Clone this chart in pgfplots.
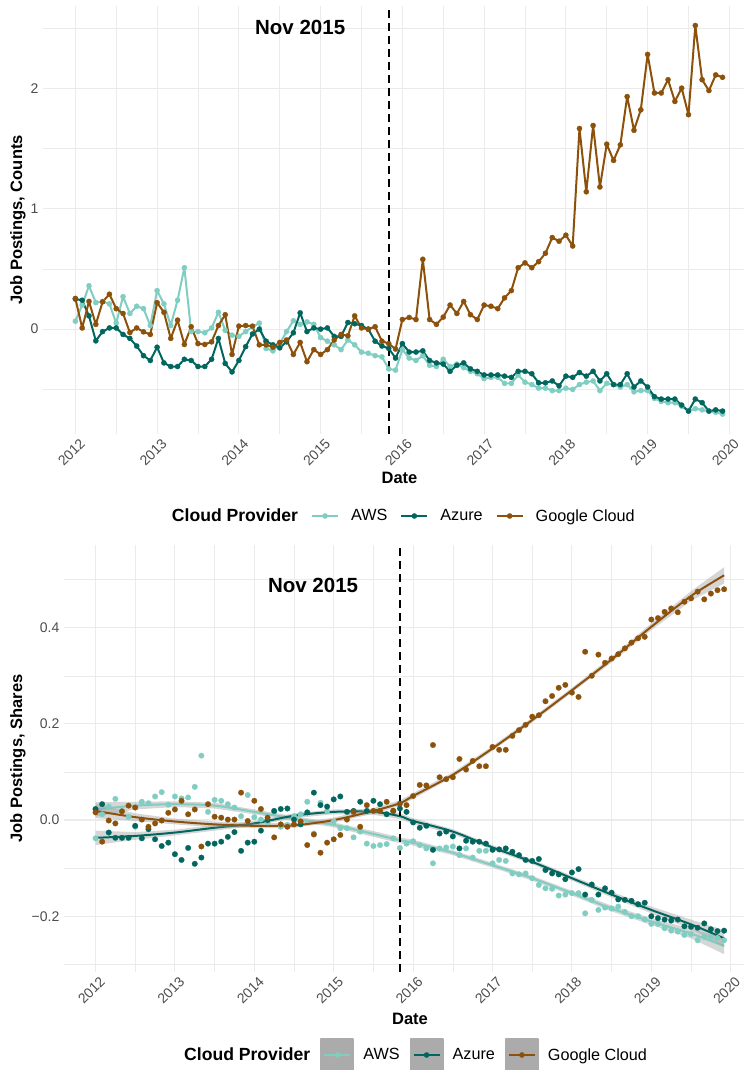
\documentclass[border=0pt]{standalone}
\usepackage{fontspec}
\setmainfont{Liberation Sans}
\usepackage{pgfplots}
\pgfplotsset{compat=1.18}
\usepackage{pgfplotstable}
\definecolor{aws}{HTML}{80CDC1}
\definecolor{azure}{HTML}{01665E}
\definecolor{gcp}{HTML}{8C510A}
\definecolor{gridc}{HTML}{EBEBEB}
\definecolor{tickc}{HTML}{4D4D4D}
\definecolor{legbg}{HTML}{ABABAB}

\pgfplotstableread{
i aws azure google
0 0.066 0.25 0.255
1 0.20 0.24 0.01
2 0.36 0.11 0.23
3 0.22 -0.097 0.04
4 0.23 -0.02 0.227
5 0.21 0.01 0.29
6 0.05 0.01 0.17
7 0.27 -0.044 0.13
8 0.13 -0.077 -0.028
9 0.19 -0.14 0.01
10 0.17 -0.22 -0.022
11 0.03 -0.26 -0.044
12 0.32 -0.15 0.22
13 0.21 -0.28 0.14
14 0.03 -0.31 -0.077
15 0.24 -0.31 0.075
16 0.51 -0.25 -0.127
17 -0.02 -0.26 0.02
18 -0.02 -0.31 -0.12
19 -0.03 -0.31 -0.127
20 0.01 -0.25 -0.105
21 0.14 -0.077 0.03
22 -0.01 -0.285 0.12
23 -0.05 -0.355 -0.21
24 -0.06 -0.26 0.025
25 -0.02 -0.145 0.03
26 0.02 -0.04 0.025
27 0.05 0.0 -0.13
28 -0.16 -0.10 -0.13
29 -0.18 -0.13 -0.15
30 -0.12 -0.155 -0.11
31 -0.02 -0.105 -0.09
32 0.07 -0.03 -0.21
33 0.04 0.135 -0.11
34 0.06 -0.02 -0.27
35 0.04 0.01 -0.17
36 -0.07 0.0 -0.21
37 -0.10 0.01 -0.17
38 -0.13 -0.06 -0.09
39 -0.17 -0.06 -0.044
40 -0.09 0.055 -0.055
41 -0.13 0.045 0.11
42 -0.19 0.03 0.01
43 -0.20 0.0 0.0
44 -0.22 -0.10 0.02
45 -0.23 -0.14 -0.10
46 -0.33 -0.16 -0.12
47 -0.34 -0.24 -0.165
48 -0.17 -0.12 0.08
49 -0.24 -0.19 0.097
50 -0.26 -0.19 0.08
51 -0.22 -0.18 0.58
52 -0.30 -0.26 0.08
53 -0.31 -0.28 0.04
54 -0.25 -0.29 0.10
55 -0.31 -0.35 0.20
56 -0.29 -0.30 0.13
57 -0.32 -0.28 0.23
58 -0.35 -0.33 0.12
59 -0.37 -0.35 0.08
60 -0.41 -0.38 0.20
61 -0.40 -0.38 0.19
62 -0.40 -0.38 0.17
63 -0.45 -0.39 0.26
64 -0.45 -0.40 0.32
65 -0.38 -0.35 0.51
66 -0.44 -0.35 0.55
67 -0.46 -0.37 0.51
68 -0.49 -0.445 0.56
69 -0.49 -0.445 0.63
70 -0.51 -0.43 0.76
71 -0.51 -0.47 0.73
72 -0.49 -0.39 0.78
73 -0.50 -0.40 0.69
74 -0.46 -0.36 1.665
75 -0.44 -0.39 1.14
76 -0.43 -0.35 1.69
77 -0.51 -0.43 1.18
78 -0.45 -0.37 1.535
79 -0.46 -0.46 1.40
80 -0.48 -0.46 1.53
81 -0.46 -0.37 1.93
82 -0.52 -0.48 1.65
83 -0.51 -0.43 1.82
84 -0.51 -0.48 2.28
85 -0.575 -0.56 1.96
86 -0.60 -0.58 1.96
87 -0.61 -0.58 2.07
88 -0.61 -0.58 1.89
89 -0.64 -0.63 2.00
90 -0.68 -0.68 1.78
91 -0.66 -0.58 2.52
92 -0.67 -0.61 2.07
93 -0.68 -0.68 1.98
94 -0.69 -0.67 2.11
95 -0.705 -0.68 2.09
}\counts

\pgfplotstableread{
i aws azure google
0 -0.038 0.023 0.016
1 0.012 0.033 -0.045
2 0.028 -0.026 -0.001
3 0.044 -0.037 -0.007
4 0.019 -0.037 0.018
5 0.007 -0.037 0.030
6 -0.014 -0.012 0.026
7 0.038 -0.038 0.001
8 0.035 -0.019 -0.014
9 0.049 -0.040 -0.007
10 0.058 -0.054 -0.001
11 0.032 -0.047 0.015
12 0.049 -0.071 0.022
13 0.045 -0.083 0.040
14 0.047 -0.058 0.012
15 0.069 -0.091 0.022
16 0.134 -0.078 -0.055
17 0.017 -0.049 0.033
18 0.042 -0.049 0.007
19 0.040 -0.045 0.005
20 0.033 -0.035 0.001
21 0.026 -0.025 0.001
22 0.008 -0.064 0.057
23 0.052 -0.047 -0.002
24 0.006 -0.045 0.040
25 0.001 -0.022 0.023
26 -0.005 0.000 0.005
27 0.017 0.019 -0.036
28 -0.014 0.023 -0.009
29 -0.010 0.024 -0.014
30 0.008 0.001 -0.009
31 0.012 -0.009 -0.003
32 0.038 0.016 -0.052
33 -0.028 0.057 -0.030
34 0.036 0.031 -0.068
35 0.019 0.028 -0.047
36 -0.003 0.043 -0.040
37 -0.017 0.049 -0.031
38 -0.017 0.017 0.001
39 -0.036 0.019 0.017
40 -0.024 0.038 -0.014
41 -0.049 0.019 0.031
42 -0.054 0.040 0.019
43 -0.052 0.033 0.019
44 -0.050 0.012 0.038
45 -0.038 0.019 0.019
46 -0.058 0.024 0.034
47 -0.049 0.017 0.031
48 -0.044 -0.005 0.050
49 -0.052 -0.016 0.073
50 -0.059 -0.012 0.072
51 -0.090 -0.062 0.156
52 -0.059 -0.028 0.089
53 -0.057 -0.024 0.085
54 -0.055 -0.034 0.089
55 -0.073 -0.059 0.127
56 -0.059 -0.043 0.105
57 -0.078 -0.045 0.123
58 -0.064 -0.045 0.112
59 -0.064 -0.049 0.112
60 -0.090 -0.062 0.152
61 -0.083 -0.061 0.146
62 -0.085 -0.059 0.146
63 -0.111 -0.066 0.175
64 -0.113 -0.073 0.187
65 -0.111 -0.083 0.198
66 -0.121 -0.085 0.215
67 -0.135 -0.081 0.218
68 -0.142 -0.104 0.247
69 -0.143 -0.111 0.258
70 -0.157 -0.113 0.275
71 -0.155 -0.123 0.281
72 -0.152 -0.109 0.265
73 -0.152 -0.102 0.256
74 -0.194 -0.155 0.350
75 -0.166 -0.134 0.300
76 -0.187 -0.155 0.344
77 -0.182 -0.142 0.327
78 -0.184 -0.151 0.336
79 -0.180 -0.165 0.345
80 -0.191 -0.166 0.357
81 -0.200 -0.168 0.369
82 -0.200 -0.175 0.378
83 -0.207 -0.172 0.381
84 -0.216 -0.200 0.417
85 -0.216 -0.204 0.420
86 -0.225 -0.207 0.433
87 -0.230 -0.209 0.440
88 -0.232 -0.207 0.432
89 -0.239 -0.221 0.454
90 -0.237 -0.222 0.461
91 -0.250 -0.224 0.475
92 -0.243 -0.215 0.459
93 -0.243 -0.227 0.471
94 -0.245 -0.231 0.478
95 -0.250 -0.230 0.480
}\shares

% loess fits
\pgfplotstableread{
x gm zm am
2012.0 0.019 -0.037 0.022
2012.5 0.006 -0.033 0.030
2013.0 -0.003 -0.026 0.033
2013.5 -0.009 -0.016 0.030
2014.0 -0.012 -0.007 0.017
2014.5 -0.011 0.009 0.003
2015.0 0.000 0.017 -0.010
2015.5 0.019 0.017 -0.029
2015.833 0.035 0.008 -0.042
2016.0 0.050 -0.002 -0.047
2016.5 0.094 -0.024 -0.068
2017.0 0.149 -0.057 -0.094
2017.5 0.208 -0.087 -0.121
2018.0 0.270 -0.121 -0.152
2018.5 0.334 -0.155 -0.184
2019.0 0.402 -0.187 -0.211
2019.5 0.466 -0.217 -0.236
2019.917 0.509 -0.246 -0.262
}\smoothfit

% confidence bands: upper edge forward, lower edge back
\pgfplotstableread{
x y
2012.0 0.037
2012.5 0.038
2013.0 0.039
2013.5 0.036
2014.0 0.022
2014.5 0.008
2015.0 -0.005
2015.5 -0.023
2015.833 -0.036
2016.0 -0.041
2016.5 -0.063
2017.0 -0.089
2017.5 -0.116
2018.0 -0.147
2018.5 -0.178
2019.0 -0.204
2019.5 -0.226
2019.917 -0.245
2019.917 -0.279
2019.5 -0.246
2019.0 -0.218
2018.5 -0.190
2018.0 -0.157
2017.5 -0.126
2017.0 -0.099
2016.5 -0.073
2016.0 -0.053
2015.833 -0.048
2015.5 -0.035
2015.0 -0.015
2014.5 -0.002
2014.0 0.012
2013.5 0.024
2013.0 0.027
2012.5 0.022
2012.0 0.007
}\bandaws

\pgfplotstableread{
x y
2012.0 -0.022
2012.5 -0.025
2013.0 -0.020
2013.5 -0.010
2014.0 -0.002
2014.5 0.014
2015.0 0.022
2015.5 0.023
2015.833 0.014
2016.0 0.004
2016.5 -0.019
2017.0 -0.052
2017.5 -0.082
2018.0 -0.116
2018.5 -0.149
2019.0 -0.180
2019.5 -0.207
2019.917 -0.229
2019.917 -0.263
2019.5 -0.227
2019.0 -0.194
2018.5 -0.161
2018.0 -0.126
2017.5 -0.092
2017.0 -0.062
2016.5 -0.029
2016.0 -0.008
2015.833 0.002
2015.5 0.011
2015.0 0.012
2014.5 0.004
2014.0 -0.012
2013.5 -0.022
2013.0 -0.032
2012.5 -0.041
2012.0 -0.052
}\bandazure

\pgfplotstableread{
x y
2012.0 0.034
2012.5 0.014
2013.0 0.003
2013.5 -0.003
2014.0 -0.007
2014.5 -0.006
2015.0 0.005
2015.5 0.025
2015.833 0.041
2016.0 0.056
2016.5 0.099
2017.0 0.154
2017.5 0.213
2018.0 0.275
2018.5 0.340
2019.0 0.409
2019.5 0.476
2019.917 0.526
2019.917 0.492
2019.5 0.456
2019.0 0.395
2018.5 0.328
2018.0 0.265
2017.5 0.203
2017.0 0.144
2016.5 0.089
2016.0 0.044
2015.833 0.029
2015.5 0.013
2015.0 -0.005
2014.5 -0.016
2014.0 -0.017
2013.5 -0.015
2013.0 -0.009
2012.5 -0.002
2012.0 0.004
}\bandgcp

\pgfplotsset{
  base/.style={
    scale only axis,
    axis line style={draw=none},
    major tick length=0pt, minor tick length=0pt,
    grid=both,
    major grid style={gridc, line width=1.1pt},
    minor grid style={gridc, line width=0.55pt},
    xtick={2012,2013,2014,2015,2016,2017,2018,2019,2020},
    xticklabels={2012,2013,2014,2015,2016,2017,2018,2019,2020},
    minor xtick={2012.5,2013.5,2014.5,2015.5,2016.5,2017.5,2018.5,2019.5},
    /pgf/number format/assume math mode=true,
    ticklabel style={font=\fontsize{14}{16}\selectfont, text=tickc},
    xticklabel style={rotate=45, anchor=north east, inner sep=0pt, yshift=-5pt},
    yticklabel style={anchor=east, inner sep=0pt, xshift=-4.5pt},
  },
  ser/.style={#1, line width=2pt, line join=round, mark=*, mark size=2.6pt, mark options={line width=0.3pt}},
  dot/.style={#1, only marks, mark=*, mark size=2.8pt, mark options={line width=0.2pt}},
}

\begin{document}
\begin{tikzpicture}
\path[use as bounding box] (0,0) rectangle (744pt,1070pt);

% ---------- top panel ----------
\begin{axis}[base,
  at={(43pt,636pt)}, anchor=south west,
  width=701pt, height=428pt,
  xmin=2011.604, xmax=2020.179, ymin=-0.87, ymax=2.682,
  ytick={0,1,2}, yticklabels={0,1,2},
  minor ytick={-0.5,0.5,1.5,2.5},
  legend image code/.code={\draw[mark repeat=2,mark phase=2,#1] plot coordinates {(0pt,0pt) (13pt,0pt) (26pt,0pt)};},
  legend style={at={(axis description cs:0.1665,-0.1916)}, anchor=west,
    draw=none, fill=none, inner sep=0pt, legend columns=-1,
    font=\fontsize{16.2}{19}\selectfont,
    nodes={inner sep=0pt},
    /tikz/every odd column/.append style={column sep=12pt},
    /tikz/every even column/.append style={column sep=13pt}},
]
\addlegendimage{legend image code/.code={}}
\addlegendentry{{\fontsize{17.6}{20}\selectfont\bfseries Cloud Provider}}
\addlegendimage{ser=aws}\addlegendentry{AWS}
\addlegendimage{ser=azure}\addlegendentry{Azure}
\addlegendimage{ser=gcp}\addlegendentry{Google Cloud}

\addplot[ser=aws, forget plot] table[x expr=2012+\thisrow{i}/12, y=aws]{\counts};
\addplot[ser=azure, forget plot] table[x expr=2012+\thisrow{i}/12, y=azure]{\counts};
\addplot[ser=gcp, forget plot] table[x expr=2012+\thisrow{i}/12, y=google]{\counts};
\addplot[black, line width=1.8pt, dash pattern=on 8pt off 5pt, forget plot] coordinates {(2015.8333,-0.87) (2015.8333,2.682)};
\node[font=\fontsize{20.5}{24}\selectfont\bfseries] at (axis cs:2014.75,2.506) {Nov 2015};
\end{axis}

% ---------- bottom panel ----------
\begin{axis}[base,
  at={(64pt,98pt)}, anchor=south west,
  width=680pt, height=427pt,
  xmin=2011.603, xmax=2020.167, ymin=-0.316, ymax=0.572,
  ytick={-0.2,0,0.2,0.4}, yticklabels={−0.2,0.0,0.2,0.4},
  minor ytick={-0.3,-0.1,0.1,0.3,0.5},
  legend image code/.code={\fill[legbg] (-3pt,-16pt) rectangle (29pt,16pt);
     \draw[mark repeat=2,mark phase=2,#1] plot coordinates {(0pt,0pt) (13pt,0pt) (26pt,0pt)};},
  legend style={at={(axis description cs:0.1632,-0.1944)}, anchor=west,
    draw=none, fill=none, inner sep=0pt, legend columns=-1,
    font=\fontsize{16.2}{19}\selectfont,
    nodes={inner sep=0pt},
    /tikz/every odd column/.append style={column sep=9pt},
    /tikz/every even column/.append style={column sep=10pt}},
]
\addlegendimage{legend image code/.code={}}
\addlegendentry{{\fontsize{17.6}{20}\selectfont\bfseries Cloud Provider}}
\addlegendimage{ser=aws}\addlegendentry{AWS}
\addlegendimage{ser=azure}\addlegendentry{Azure}
\addlegendimage{ser=gcp}\addlegendentry{Google Cloud}

\addplot[dot=aws, forget plot] table[x expr=2012+\thisrow{i}/12, y=aws]{\shares};
\addplot[dot=azure, forget plot] table[x expr=2012+\thisrow{i}/12, y=azure]{\shares};
\addplot[dot=gcp, forget plot] table[x expr=2012+\thisrow{i}/12, y=google]{\shares};

\addplot[fill=black!40, fill opacity=0.4, draw=none, forget plot] table[x=x, y=y]{\bandaws};
\addplot[aws, line width=2pt, smooth, forget plot] table[x=x, y=am]{\smoothfit};
\addplot[fill=black!40, fill opacity=0.4, draw=none, forget plot] table[x=x, y=y]{\bandazure};
\addplot[azure, line width=2pt, smooth, forget plot] table[x=x, y=zm]{\smoothfit};
\addplot[fill=black!40, fill opacity=0.4, draw=none, forget plot] table[x=x, y=y]{\bandgcp};
\addplot[gcp, line width=2pt, smooth, forget plot] table[x=x, y=gm]{\smoothfit};

\addplot[black, line width=1.8pt, dash pattern=on 8pt off 5pt, forget plot] coordinates {(2015.8333,-0.316) (2015.8333,0.572)};
\node[font=\fontsize{20.5}{24}\selectfont\bfseries] at (axis cs:2014.74,0.4886) {Nov 2015};
\end{axis}

% axis titles
\node[rotate=90, font=\fontsize{16.5}{20}\selectfont\bfseries] at (18pt,850pt) {Job Postings, Counts};
\node[rotate=90, font=\fontsize{16.5}{20}\selectfont\bfseries] at (18pt,311.5pt) {Job Postings, Shares};
\node[font=\fontsize{16.5}{20}\selectfont\bfseries] at (399.5pt,592pt) {Date};
\node[font=\fontsize{16.5}{20}\selectfont\bfseries] at (410pt,51pt) {Date};
\end{tikzpicture}
\end{document}
